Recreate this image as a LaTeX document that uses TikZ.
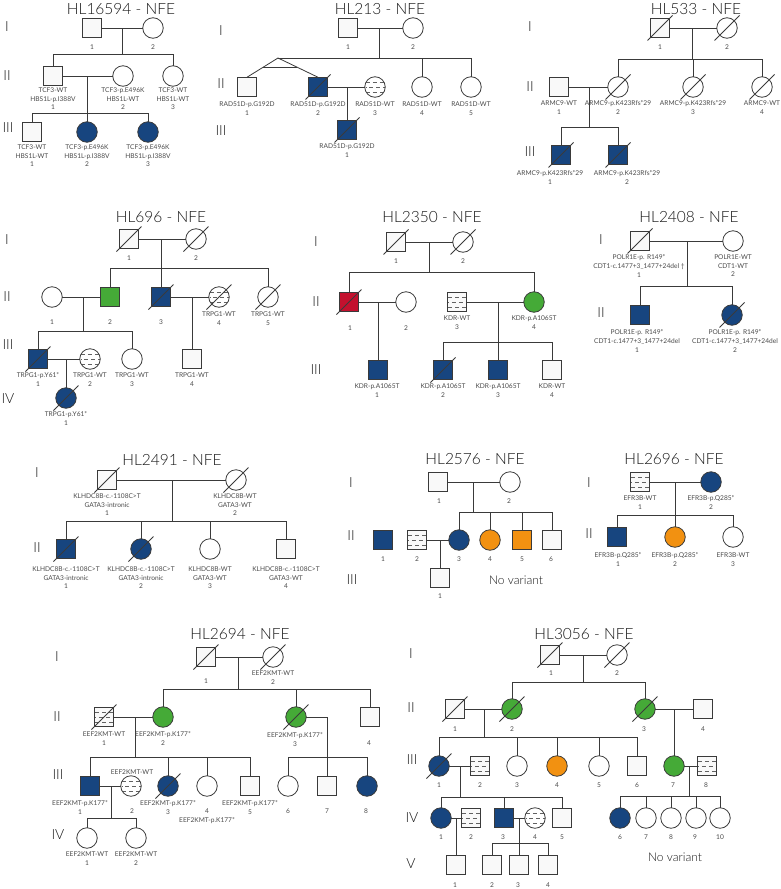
\documentclass[tikz,border=0pt]{standalone}
\usepackage{fontspec}
\setmainfont{Lato}
\newfontfamily\lightfont{Lato Light}
\usetikzlibrary{calc}
\definecolor{lc}{HTML}{3A3A3A}
\definecolor{navy}{HTML}{17457F}
\definecolor{grn}{HTML}{45AA37}
\definecolor{org}{HTML}{F29111}
\definecolor{rd}{HTML}{C3112E}
\definecolor{txt}{HTML}{4A4A4A}
\definecolor{offw}{HTML}{F9F9F9}
\newcounter{lb}
\newcommand\lab[3]{\stepcounter{lb}\node[lbl] (lb\arabic{lb}) at (#1,{#2-2.5}) {#3};}
\newcommand\dec[1]{\draw[conn] ($(#1.center)+(-12.5,12.5)$) -- ($(#1.center)+(12.5,-12.5)$);}
\newcommand\kids[3]{\draw[conn] (#1) -- (#1 |- 0,#2);\foreach \kk in {#3}{\draw[conn] (#1 |- 0,#2) -- (\kk |- 0,#2) -- (\kk);}}
\begin{document}
\begin{tikzpicture}[x=1pt,y=-1pt,
  conn/.style={draw=lc,line width=0.8pt},
  sym/.style={draw=lc,line width=0.8pt,inner sep=0pt,outer sep=0pt},
  msq/.style={sym,rectangle,minimum size=19.5pt,fill=offw},
  fcir/.style={sym,circle,minimum size=20.5pt,fill=white},
  aff/.style={fill=navy},
  grnf/.style={fill=grn},
  orgf/.style={fill=org},
  redf/.style={fill=rd},
  stripe/.style={path picture={\foreach \dy/\ph in {-4.8/0,0/3.5,4.8/0}{\draw[lc!80,line width=0.5pt,dash pattern=on 4pt off 3pt,dash phase=\ph pt]([yshift=\dy pt,xshift=1pt]path picture bounding box.west)--([yshift=\dy pt]path picture bounding box.east);}}},
  ttl/.style={font=\lightfont\fontsize{15.5}{18}\selectfont,text=black!90,inner sep=0pt},
  rom/.style={font=\lightfont\fontsize{14}{16}\selectfont,text=black!90,inner sep=0pt},
  lbl/.style={anchor=north,align=center,font=\fontsize{6.6}{8.7}\selectfont,text=txt,inner sep=0pt},
  nv/.style={font=\lightfont\fontsize{12}{14}\selectfont,text=black!90,inner sep=0pt}]
\fill[white] (0,0) rectangle (781,889);
\useasboundingbox (0,0) rectangle (781,889);

% ===== A: HL16594 =====
\node[ttl] (TA) at (121,9) {HL16594 - NFE};
\node[rom] (RA1) at (7,27) {I};
\node[rom] (RA2) at (7,76) {II};
\node[rom] (RA3) at (8,128) {III};
\node[msq] (A11) at (92,28) {};
\node[fcir] (A12) at (153,28) {};
\node[msq] (A21) at (53,76) {};
\node[fcir] (A22) at (123,76) {};
\node[fcir] (A23) at (173,76) {};
\node[msq] (A31) at (32,132) {};
\node[fcir,aff] (A32) at (87,132) {};
\node[fcir,aff] (A33) at (148,132) {};
\draw[conn] (A11) -- (A12);
\draw[conn] (A21) -- (A22);
\coordinate (Am1) at (122,28);
\coordinate (Am2) at (87,76);
\kids{Am1}{54}{A21,A23}
\kids{Am2}{113}{A31,A32,A33}
\lab{92}{47}{1}
\lab{153}{47}{2}
\lab{53}{90}{TCF3-WT\\HBS1L-p.I388V\\1}
\lab{123}{90}{TCF3-p.E496K\\HBS1L-WT\\2}
\lab{173}{90}{TCF3-WT\\HBS1L-WT\\3}
\lab{32}{147}{TCF3-WT\\HBS1L-WT\\1}
\lab{87}{147}{TCF3-p.E496K\\HBS1L-p.I388V\\2}
\lab{148}{147}{TCF3-p.E496K\\HBS1L-p.I388V\\3}

% ===== B: HL213 =====
\node[ttl] (TB) at (380,9) {HL213 - NFE};
\node[rom] (RB1) at (221,31) {I};
\node[rom] (RB2) at (221,84) {II};
\node[rom] (RB3) at (221,131) {III};
\node[msq] (B11) at (348,28) {};
\node[fcir] (B12) at (413,28) {};
\node[msq] (B21) at (247,87) {};
\node[msq,aff] (B22) at (318,87) {};
\node[fcir,stripe] (B23) at (375,87) {};
\node[fcir] (B24) at (422,87) {};
\node[fcir] (B25) at (471,87) {};
\node[msq,aff] (B31) at (347,130) {};
\draw[conn] (B11) -- (B12);
\draw[conn] (B22) -- (B23);
\coordinate (Bm1) at (379,28);
\coordinate (Btw) at (278,58);
\coordinate (Bm2) at (347,87);
\kids{Bm1}{58}{B24,B25}
\draw[conn] (Btw) -- (Bm1 |- Btw);
\draw[conn] (Btw) -- (B21.north);
\draw[conn] (Btw) -- (B22.north);
\draw[conn] ($(Btw)!0.47!(B21.north)$) -- ($(Btw)!0.47!(B22.north)$);
\draw[conn] (Bm2) -- (B31);
\dec{B22}
\dec{B31}
\lab{348}{47}{1}
\lab{413}{47}{2}
\lab{247}{104}{RAD51D-p.G192D\\1}
\lab{318}{104}{RAD51D-p.G192D\\2}
\lab{375}{104}{RAD51D-WT\\3}
\lab{422}{104}{RAD51D-WT\\4}
\lab{471}{104}{RAD51D-WT\\5}
\lab{347}{146}{RAD51D-p.G192D\\1}

% ===== C: HL533 =====
\node[ttl] (TC) at (696,9) {HL533 - NFE};
\node[rom] (RC1) at (530,27) {I};
\node[rom] (RC2) at (530,87) {II};
\node[rom] (RC3) at (530,152) {III};
\node[msq] (C11) at (660,28) {};
\node[fcir] (C12) at (727,28) {};
\node[msq] (C21) at (559,87) {};
\node[fcir] (C22) at (618,87) {};
\node[fcir] (C23) at (693,87) {};
\node[fcir] (C24) at (762,87) {};
\node[msq,aff] (C31) at (561,155) {};
\node[msq,aff] (C32) at (618,155) {};
\draw[conn] (C11) -- (C12);
\draw[conn] (C21) -- (C22);
\coordinate (Cm1) at (692,28);
\coordinate (Cm2) at (589,87);
\kids{Cm1}{59}{C22,C23,C24}
\kids{Cm2}{127}{C31,C32}
\dec{C11}\dec{C12}\dec{C22}\dec{C23}\dec{C24}\dec{C31}\dec{C32}
\lab{660}{47}{1}
\lab{727}{47}{2}
\lab{559}{103}{ARMC9-WT\\1}
\lab{618}{103}{ARMC9-p.K423Rfs*29\\2}
\lab{693}{103}{ARMC9-p.K423Rfs*29\\3}
\lab{762}{103}{ARMC9-WT\\4}
\lab{550}{173}{ARMC9-p.K423Rfs*29\\1}
\lab{627}{173}{ARMC9-p.K423Rfs*29\\2}

% ===== D: HL696 =====
\node[ttl] (TD) at (161,217) {HL696 - NFE};
\node[rom] (RD1) at (7,240) {I};
\node[rom] (RD2) at (7,297) {II};
\node[rom] (RD3) at (8,345) {III};
\node[rom] (RD4) at (8,399) {IV};
\node[msq] (D11) at (129,239) {};
\node[fcir] (D12) at (196,239) {};
\node[fcir] (D21) at (52,297) {};
\node[msq,grnf] (D22) at (110,297) {};
\node[msq,aff] (D23) at (161,297) {};
\node[fcir,stripe] (D24) at (219,297) {};
\node[fcir] (D25) at (268,297) {};
\node[msq,aff] (D31) at (38,359) {};
\node[fcir,stripe] (D32) at (90,359) {};
\node[fcir] (D33) at (132,359) {};
\node[msq] (D34) at (192,359) {};
\node[fcir,aff] (D41) at (66,398) {};
\draw[conn] (D11) -- (D12);
\draw[conn] (D21) -- (D22);
\draw[conn] (D23) -- (D24);
\draw[conn] (D31) -- (D32);
\coordinate (Dm1) at (161,239);
\coordinate (Dm2) at (83,297);
\coordinate (Dm3) at (192,297);
\coordinate (Dm4) at (66,359);
\kids{Dm1}{268}{D22,D23,D25}
\kids{Dm2}{331}{D31,D33}
\draw[conn] (Dm3) -- (D34);
\draw[conn] (Dm4) -- (D41);
\dec{D11}\dec{D12}\dec{D23}\dec{D24}\dec{D25}\dec{D31}\dec{D41}
\lab{129}{258}{1}
\lab{196}{258}{2}
\lab{52}{322}{1}
\lab{110}{322}{2}
\lab{161}{322}{3}
\lab{219}{314}{TRPG1-WT\\4}
\lab{268}{314}{TRPG1-WT\\5}
\lab{38}{375}{TRPG1-p.Y61*\\1}
\lab{90}{375}{TRPG1-WT\\2}
\lab{132}{375}{TRPG1-WT\\3}
\lab{192}{375}{TRPG1-WT\\4}
\lab{66}{414}{TRPG1-p.Y61*\\1}

% ===== E: HL2350 =====
\node[ttl] (TE) at (432,217) {HL2350 - NFE};
\node[rom] (RE1) at (316,242) {I};
\node[rom] (RE2) at (316,302) {II};
\node[rom] (RE3) at (316,370) {III};
\node[msq] (E11) at (396,242) {};
\node[fcir] (E12) at (463,242) {};
\node[msq,redf] (E21) at (349,302) {};
\node[fcir] (E22) at (406,302) {};
\node[msq,stripe] (E23) at (457,302) {};
\node[fcir,grnf] (E24) at (534,302) {};
\node[msq,aff] (E31) at (378,370) {};
\node[msq,aff] (E32) at (443,370) {};
\node[msq,aff] (E33) at (498,370) {};
\node[msq] (E34) at (552,370) {};
\draw[conn] (E11) -- (E12);
\draw[conn] (E21) -- (E22);
\draw[conn] (E23) -- (E24);
\coordinate (Em1) at (429,242);
\coordinate (Em2) at (378,302);
\coordinate (Em3) at (498,302);
\kids{Em1}{272}{E21,E24}
\draw[conn] (Em2) -- (E31);
\kids{Em3}{342}{E32,E33,E34}
\dec{E11}\dec{E12}\dec{E21}\dec{E32}
\lab{396}{261}{1}
\lab{463}{261}{2}
\lab{350}{328}{1}
\lab{406}{328}{2}
\lab{457}{318}{KDR-WT\\3}
\lab{534}{318}{KDR-p.A1065T\\4}
\lab{377}{386}{KDR-p.A1065T\\1}
\lab{443}{386}{KDR-p.A1065T\\2}
\lab{498}{386}{KDR-p.A1065T\\3}
\lab{552}{386}{KDR-WT\\4}

% ===== F: HL2408 =====
\node[ttl] (TF) at (689,217) {HL2408 - NFE};
\node[rom] (RF1) at (601,240) {I};
\node[rom] (RF2) at (601,313) {II};
\node[msq] (F11) at (640,241) {};
\node[fcir] (F12) at (733,241) {};
\node[msq,aff] (F21) at (640,315) {};
\node[fcir,aff] (F22) at (732,315) {};
\draw[conn] (F11) -- (F12);
\coordinate (Fm1) at (687,241);
\kids{Fm1}{286}{F21,F22}
\dec{F11}\dec{F22}
\lab{639}{257}{POLR1E-p. R149*\\CDT1-c.1477+3\_1477+24del †\\1}
\lab{733}{257}{POLR1E-WT\\CDT1-WT\\2}
\lab{637}{332}{POLR1E-p. R149*\\CDT1-c.1477+3\_1477+24del\\1}
\lab{735}{332}{POLR1E-p. R149*\\CDT1-c.1477+3\_1477+24del\\2}

% ===== G: HL2491 =====
\node[ttl] (TG) at (172,460) {HL2491 - NFE};
\node[rom] (RG1) at (37,473) {I};
\node[rom] (RG2) at (37,548) {II};
\node[msq] (G11) at (107,480) {};
\node[fcir] (G12) at (236,480) {};
\node[msq,aff] (G21) at (66,549) {};
\node[fcir,aff] (G22) at (141,549) {};
\node[fcir] (G23) at (210,549) {};
\node[msq] (G24) at (286,549) {};
\draw[conn] (G11) -- (G12);
\coordinate (Gm1) at (172,480);
\kids{Gm1}{521}{G21,G22,G23,G24}
\dec{G11}\dec{G12}\dec{G21}\dec{G22}
\lab{107}{496}{KLHDC8B-c.-1108C>T\\GATA3-intronic\\1}
\lab{235}{496}{KLHDC8B-WT\\GATA3-WT\\2}
\lab{66}{569}{KLHDC8B-c.-1108C>T\\GATA3-intronic\\1}
\lab{141}{569}{KLHDC8B-c.-1108C>T\\GATA3-intronic\\2}
\lab{210}{569}{KLHDC8B-WT\\GATA3-WT\\3}
\lab{286}{569}{KLHDC8B-c.-1108C>T\\GATA3-WT\\4}

% ===== H: HL2576 =====
\node[ttl] (TH) at (475,459) {HL2576 - NFE};
\node[rom] (RH1) at (351,483) {I};
\node[rom] (RH2) at (351,536) {II};
\node[rom] (RH3) at (352,580) {III};
\node[msq] (H11) at (438,482) {};
\node[fcir] (H12) at (510,482) {};
\node[msq,aff] (H21) at (383,540) {};
\node[msq,stripe] (H22) at (417,540) {};
\node[fcir,aff] (H23) at (459,540) {};
\node[fcir,orgf] (H24) at (490,540) {};
\node[msq,orgf] (H25) at (522,540) {};
\node[msq] (H26) at (552,540) {};
\node[msq] (H31) at (440,578) {};
\draw[conn] (H11) -- (H12);
\draw[conn] (H22) -- (H23);
\coordinate (Hm1) at (473,482);
\coordinate (Hm2) at (440,540);
\kids{Hm1}{512}{H23,H24,H25,H26}
\draw[conn] (Hm2) -- (H31);
\lab{439}{501}{1}
\lab{509}{501}{2}
\lab{383}{559}{1}
\lab{417}{559}{2}
\lab{459}{559}{3}
\lab{490}{559}{4}
\lab{522}{559}{5}
\lab{551}{559}{6}
\lab{440}{596}{1}
\node[nv] (NVH) at (516,580) {No variant};

% ===== J: HL2696 =====
\node[ttl] (TJ) at (674,459) {HL2696 - NFE};
\node[rom] (RJ1) at (589,483) {I};
\node[rom] (RJ2) at (589,534) {II};
\node[msq,stripe] (J11) at (640,482) {};
\node[fcir,aff] (J12) at (711,482) {};
\node[msq,aff] (J21) at (617,537) {};
\node[fcir,orgf] (J22) at (675,537) {};
\node[fcir] (J23) at (733,537) {};
\draw[conn] (J11) -- (J12);
\coordinate (Jm1) at (675,482);
\kids{Jm1}{515}{J21,J22,J23}
\lab{640}{498}{EFR3B-WT\\1}
\lab{711}{498}{EFR3B-p.Q285*\\2}
\lab{618}{555}{EFR3B-p.Q285*\\1}
\lab{675}{555}{EFR3B-p.Q285*\\2}
\lab{733}{555}{EFR3B-WT\\3}

% ===== K: HL2694 =====
\node[ttl] (TK) at (240,634) {HL2694 - NFE};
\node[rom] (RK1) at (57,657) {I};
\node[rom] (RK2) at (57,717) {II};
\node[rom] (RK3) at (58,775) {III};
\node[rom] (RK4) at (58,835) {IV};
\node[msq] (K11) at (206,657) {};
\node[fcir] (K12) at (273,657) {};
\node[msq,stripe] (K21) at (104,717) {};
\node[fcir,grnf] (K22) at (163,717) {};
\node[fcir,grnf] (K23) at (296,717) {};
\node[msq] (K24) at (370,717) {};
\node[msq,aff] (K31) at (90,786) {};
\node[fcir,stripe] (K32) at (131,786) {};
\node[fcir,aff] (K33) at (168,786) {};
\node[fcir] (K34) at (207,786) {};
\node[msq] (K35) at (250,786) {};
\node[fcir] (K36) at (288,786) {};
\node[msq] (K37) at (327,786) {};
\node[fcir,aff] (K38) at (367,786) {};
\node[fcir] (K41) at (87,838) {};
\node[fcir] (K42) at (136,838) {};
\draw[conn] (K11) -- (K12);
\draw[conn] (K21) -- (K22);
\draw[conn] (K31) -- (K32);
\coordinate (Km1) at (238,657);
\coordinate (Km2) at (135,717);
\coordinate (Km3) at (327,717);
\coordinate (Km4) at (111,786);
\kids{Km1}{689}{K22,K23,K24}
\kids{Km2}{757}{K31,K33,K34,K35}
\draw[conn] (K23) -- (Km3);
\kids{Km3}{757}{K36,K37,K38}
\kids{Km4}{818}{K41,K42}
\dec{K11}\dec{K12}\dec{K21}\dec{K23}\dec{K33}
\lab{206}{681}{1}
\lab{273}{673}{EEF2KMT-WT\\2}
\lab{104}{734}{EEF2KMT-WT\\1}
\lab{163}{734}{EEF2KMT-p.K177*\\2}
\lab{295}{735}{EEF2KMT-p.K177*\\3}
\lab{369}{743}{4}
\lab{132}{772}{EEF2KMT-WT}
\lab{80}{803}{EEF2KMT-p.K177*\\1}
\lab{132}{811}{2}
\lab{168}{803}{EEF2KMT-p.K177*\\3}
\lab{207}{811}{4\\EEF2KMT-p.K177*}
\lab{250}{803}{EEF2KMT-p.K177*\\5}
\lab{288}{811}{6}
\lab{327}{811}{7}
\lab{366}{811}{8}
\lab{87}{854}{EEF2KMT-WT\\1}
\lab{136}{854}{EEF2KMT-WT\\2}

% ===== L: HL3056 =====
\node[ttl] (TL) at (584,634) {HL3056 - NFE};
\node[rom] (RL1) at (411,654) {I};
\node[rom] (RL2) at (411,708) {II};
\node[rom] (RL3) at (412,760) {III};
\node[rom] (RL4) at (412,818) {IV};
\node[rom] (RL5) at (411,864) {V};
\node[msq] (L11) at (550,655) {};
\node[fcir] (L12) at (617,655) {};
\node[msq] (L21) at (455,709) {};
\node[fcir,grnf] (L22) at (512,709) {};
\node[fcir,grnf] (L23) at (645,709) {};
\node[msq] (L24) at (703,709) {};
\node[fcir,aff] (L31) at (439,766) {};
\node[msq,stripe] (L32) at (480,766) {};
\node[fcir] (L33) at (517,766) {};
\node[fcir,orgf] (L34) at (557,766) {};
\node[fcir] (L35) at (599,766) {};
\node[msq] (L36) at (637,766) {};
\node[fcir,grnf] (L37) at (674,766) {};
\node[msq,stripe] (L38) at (707,766) {};
\node[fcir,aff] (L41) at (441,818) {};
\node[msq,stripe] (L42) at (471,818) {};
\node[msq,aff] (L43) at (504,818) {};
\node[fcir,stripe] (L44) at (535,818) {};
\node[msq] (L45) at (562,818) {};
\node[fcir,aff] (L46) at (620,818) {};
\node[fcir] (L47) at (646,818) {};
\node[fcir] (L48) at (671,818) {};
\node[fcir] (L49) at (696,818) {};
\node[fcir] (L410) at (720,818) {};
\node[msq] (L51) at (456,865) {};
\node[msq] (L52) at (492,865) {};
\node[msq] (L53) at (519,865) {};
\node[msq] (L54) at (548,865) {};
\draw[conn] (L11) -- (L12);
\draw[conn] (L21) -- (L22);
\draw[conn] (L23) -- (L24);
\draw[conn] (L31) -- (L32);
\draw[conn] (L37) -- (L38);
\draw[conn] (L41) -- (L42);
\draw[conn] (L43) -- (L44);
\coordinate (Lm1) at (583,655);
\coordinate (Lm2) at (484,709);
\coordinate (Lm3) at (674,709);
\coordinate (Lm4) at (460,766);
\coordinate (Lm5) at (689,766);
\coordinate (Lm6) at (456,818);
\coordinate (Lm7) at (519,818);
\kids{Lm1}{682}{L22,L23}
\kids{Lm2}{737}{L31,L33,L34,L35,L36}
\draw[conn] (Lm3) -- (L37);
\kids{Lm4}{797}{L41,L43,L45}
\kids{Lm5}{796}{L46,L47,L48,L49,L410}
\draw[conn] (Lm6) -- (L51);
\kids{Lm7}{843}{L52,L53,L54}
\dec{L11}\dec{L12}\dec{L21}\dec{L22}\dec{L23}\dec{L31}
\lab{551}{673}{1}
\lab{617}{673}{2}
\lab{455}{729}{1}
\lab{512}{729}{2}
\lab{644}{729}{3}
\lab{703}{729}{4}
\lab{439}{785}{1}
\lab{480}{785}{2}
\lab{517}{785}{3}
\lab{557}{785}{4}
\lab{599}{785}{5}
\lab{637}{785}{6}
\lab{673}{785}{7}
\lab{706}{785}{8}
\lab{441}{837}{1}
\lab{471}{837}{2}
\lab{503}{837}{3}
\lab{535}{837}{4}
\lab{562}{837}{5}
\lab{620}{837}{6}
\lab{646}{837}{7}
\lab{671}{837}{8}
\lab{695}{837}{9}
\lab{720}{837}{10}
\lab{455}{885}{1}
\lab{492}{885}{2}
\lab{518}{885}{3}
\lab{548}{885}{4}
\node[nv] (NVL) at (675,857) {No variant};
\end{tikzpicture}
\end{document}
